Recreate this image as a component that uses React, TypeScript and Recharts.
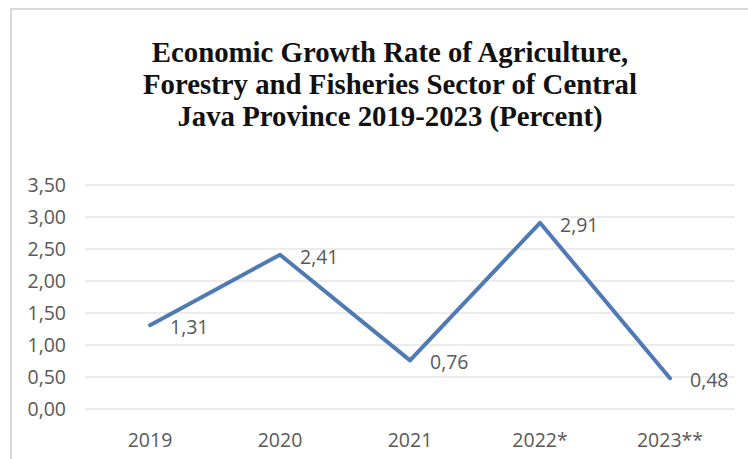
import { LineChart, Line, XAxis, YAxis, CartesianGrid, LabelList } from 'recharts';

const years = ['2019', '2020', '2021', '2022*', '2023**'];
const growth = [1.31, 2.41, 0.76, 2.91, 0.48];
const yTicks = [0, 0.5, 1, 1.5, 2, 2.5, 3, 3.5];
const titleLines = [
  'Economic Growth Rate of Agriculture,',
  'Forestry and Fisheries Sector of Central',
  'Java Province 2019-2023 (Percent)',
];

const data = years.map((year, i) => ({ year, value: growth[i] }));

const comma = (v: number) => v.toFixed(2).replace('.', ',');

const tickFont = { fontFamily: 'Open Sans', fontSize: 19.5, fill: '#595959' };

const renderLabel = (props: any) => {
  const { x, y, value } = props;
  return (
    <text x={x + 20} y={y + 9} {...tickFont} textAnchor="start">
      {comma(value)}
    </text>
  );
};

export default function App() {
  return (
    <div
      style={{
        position: 'absolute',
        left: 0,
        top: 0,
        width: 748,
        height: 459,
        overflow: 'hidden',
        background: '#fff',
      }}
    >
      <div
        style={{
          position: 'absolute',
          left: 10,
          top: 8,
          width: 760,
          height: 470,
          borderLeft: '2px solid #d9d9d9',
          borderTop: '2px solid #d9d9d9',
        }}
      />
      <div
        style={{
          position: 'absolute',
          left: 90,
          top: 36,
          width: 600,
          textAlign: 'center',
          fontFamily: '"Liberation Serif", serif',
          fontWeight: 'bold',
          fontSize: 28.8,
          lineHeight: '32px',
          color: '#111',
        }}
      >
        {titleLines.map((t) => (
          <div key={t}>{t}</div>
        ))}
      </div>
      <div style={{ position: 'absolute', left: 0, top: 0 }}>
        <LineChart
          width={748}
          height={459}
          data={data}
          margin={{ top: 185, right: 13, bottom: 10, left: 15 }}
        >
          <CartesianGrid vertical={false} stroke="#d9d9d9" />
          <XAxis
            dataKey="year"
            axisLine={false}
            tickLine={false}
            tickSize={0}
            tickMargin={24}
            height={40}
            padding={{ left: 65, right: 65 }}
            tick={tickFont}
          />
          <YAxis
            domain={[0, 3.5]}
            ticks={yTicks}
            axisLine={false}
            tickLine={false}
            tickSize={0}
            tickMargin={19}
            width={70}
            tickFormatter={comma}
            tick={tickFont}
          />
          <Line
            dataKey="value"
            stroke="#4f7ab3"
            strokeWidth={4}
            strokeLinecap="round"
            strokeLinejoin="round"
            dot={false}
            isAnimationActive={false}
          >
            <LabelList dataKey="value" content={renderLabel} />
          </Line>
        </LineChart>
      </div>
    </div>
  );
}
